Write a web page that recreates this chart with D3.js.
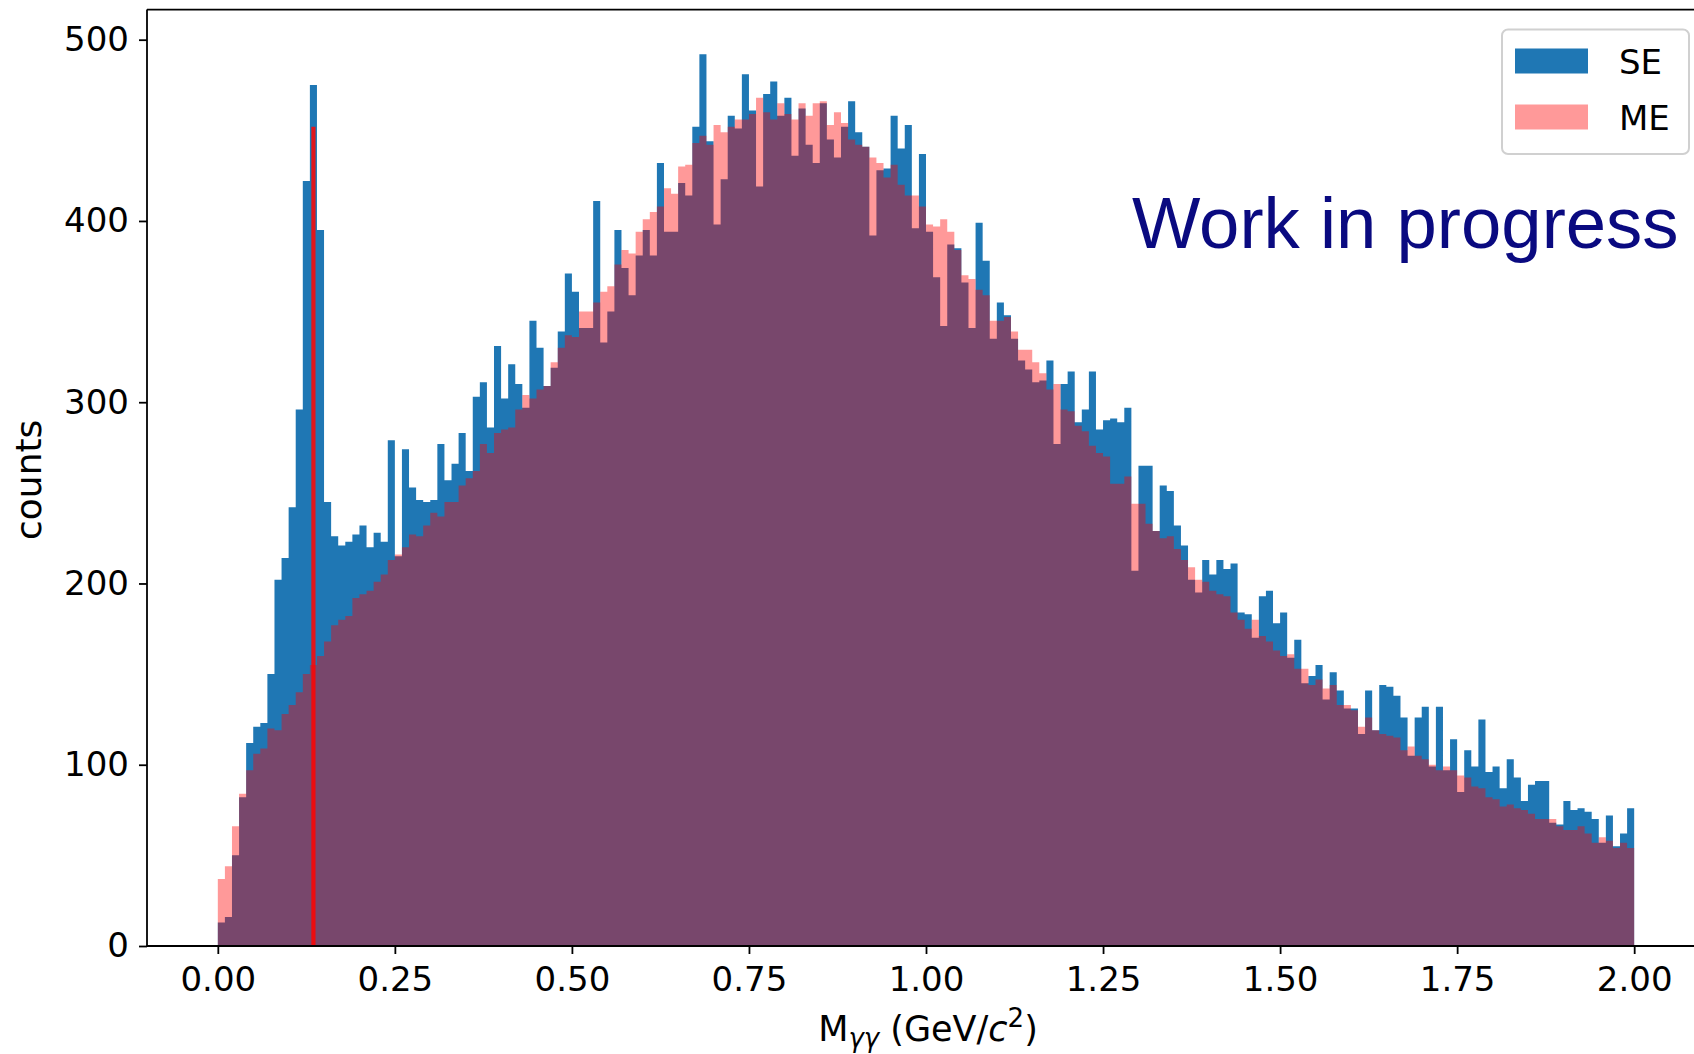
<!DOCTYPE html>
<html><head><meta charset="utf-8">
<script src="https://cdn.jsdelivr.net/npm/d3@7/dist/d3.min.js"></script>
<style>body{margin:0;background:#fff}svg{display:block}</style>
</head><body>
<svg id="chart" width="1694" height="1054"></svg>
<script>
// ---- data (200 bins of width 0.01 GeV/c^2 from 0 to 2) ----
const binStart = 0.0;
const binWidth = 0.01;
const seCounts = [
 13,16,50,82,112,121,123,150,202,214, 242,296,422,475,395,245,226,221,223,227,
 232,220,228,223,279,215,274,253,246,245, 246,277,257,266,283,262,303,311,286,331,
 302,321,310,297,345,330,309,319,339,371, 361,341,341,411,333,350,395,374,359,381,
 395,381,432,394,394,421,414,452,492,444, 398,423,458,451,481,461,419,470,477,458,
 468,436,462,442,432,465,445,435,452,466, 449,441,392,428,429,458,440,453,396,437,
 394,369,342,387,385,366,341,399,378,335, 355,348,335,323,318,311,312,323,277,310,
 317,289,296,317,285,290,291,289,297,207, 265,265,229,254,251,232,221,202,195,213,
 205,213,208,211,184,183,170,193,196,178, 184,159,169,145,149,155,136,151,141,131,
 131,117,141,119,144,143,138,126,105,126, 132,99,132,97,114,85,108,99,125,96,
 99,87,103,93,80,89,91,91,68,67, 80,75,76,74,70,57,72,55,62,76
];
const meCounts = [
 37,44,66,84,97,106,109,120,119,128, 133,140,150,155,160,168,177,180,182,192,
 194,196,201,205,213,216,220,227,226,232, 239,237,245,245,254,258,262,277,272,283,
 285,286,296,304,302,307,309,322,330,337, 336,350,350,355,361,364,376,384,382,394,
 401,405,408,418,415,430,431,443,447,442, 453,449,452,456,456,459,468,460,456,465,
 459,456,465,458,465,466,453,460,454,445, 442,441,435,432,424,431,420,414,414,408,
 398,397,401,394,384,370,368,362,359,345, 345,347,339,329,329,322,316,307,310,296,
 295,287,284,276,272,270,255,255,259,244, 244,233,229,225,226,219,213,209,202,201,
 196,194,193,184,180,175,180,171,168,163, 160,161,153,153,144,147,142,144,133,133,
 130,121,126,119,117,116,115,108,110,105, 103,100,97,99,97,94,93,88,87,82,
 81,77,78,76,75,73,70,70,70,66, 64,64,66,62,57,60,58,54,57,54
];
const seriesNames = ["SE", "ME"];
const xTicks = [0, 0.25, 0.5, 0.75, 1.0, 1.25, 1.5, 1.75, 2.0];
const yTicks = [0, 100, 200, 300, 400, 500];
const piMass = 0.135;        // red marker line position
const piLineTop = 452;       // red marker line height (counts)
const xDomain = [-0.1, 2.1];
const yDomain = [0, 516.6];
const annotation = "Work in progress";

// ---- layout ----
const svg = d3.select("#chart");
const FONT = "DejaVu Sans, sans-serif";
const x = d3.scaleLinear().domain(xDomain).range([147, 1705]);
const y = d3.scaleLinear().domain(yDomain).range([946, 9.6]);

const colSE = "#1f77b4";
const colME = "#ff0000";

svg.append("defs").append("clipPath").attr("id", "plotclip")
  .append("rect").attr("x", x(xDomain[0])).attr("y", y(yDomain[1]))
  .attr("width", x(xDomain[1]) - x(xDomain[0])).attr("height", y(0) - y(yDomain[1]));

function stepData(counts) {
  const pts = counts.map((v, i) => ({e: binStart + i * binWidth, v}));
  pts.push({e: binStart + counts.length * binWidth, v: counts[counts.length - 1]});
  return pts;
}
const area = d3.area()
  .x(d => x(d.e)).y0(y(0)).y1(d => y(d.v))
  .curve(d3.curveStepAfter);

const plot = svg.append("g").attr("clip-path", "url(#plotclip)");
plot.append("path").datum(stepData(seCounts))
  .attr("d", area).attr("fill", colSE);
plot.append("line")
  .attr("x1", x(piMass)).attr("x2", x(piMass))
  .attr("y1", y(0)).attr("y2", y(piLineTop))
  .attr("stroke", "#e0161c").attr("stroke-width", 4.2);
plot.append("path").datum(stepData(meCounts))
  .attr("d", area).attr("fill", colME).attr("fill-opacity", 0.4);

// ---- axes ----
const xAxis = d3.axisBottom(x).tickValues(xTicks).tickFormat(d3.format(".2f"))
  .tickSize(8).tickSizeOuter(0).tickPadding(13);
const yAxis = d3.axisLeft(y).tickValues(yTicks).tickFormat(d3.format("d"))
  .tickSize(8).tickSizeOuter(0).tickPadding(10);

const gx = svg.append("g").attr("transform", `translate(0,${y(0)})`).call(xAxis);
const gy = svg.append("g").attr("transform", `translate(${x(xDomain[0])},0)`).call(yAxis);
[gx, gy].forEach(g => {
  g.select(".domain").remove();
  g.selectAll(".tick line").attr("stroke", "#000").attr("stroke-width", 1.8);
  g.selectAll(".tick text").attr("fill", "#000")
    .style("font-family", FONT).style("font-size", "34px");
});

// spines
const spine = svg.append("g").attr("stroke", "#000").attr("stroke-width", 1.8).attr("fill", "none");
spine.append("line").attr("x1", x(xDomain[0])).attr("x2", x(xDomain[0])).attr("y1", y(yDomain[1])).attr("y2", y(0));
spine.append("line").attr("x1", x(xDomain[0])).attr("x2", x(xDomain[1])).attr("y1", y(0)).attr("y2", y(0));
spine.append("line").attr("x1", x(xDomain[0])).attr("x2", x(xDomain[1])).attr("y1", y(yDomain[1])).attr("y2", y(yDomain[1]));

// axis labels
svg.append("text")
  .attr("transform", `translate(41,${(y(0) + y(yDomain[1])) / 2 + 2}) rotate(-90)`)
  .attr("text-anchor", "middle")
  .style("font-family", FONT).style("font-size", "36px").attr("fill", "#000")
  .text("counts");

const xl = svg.append("text")
  .attr("x", (x(xDomain[0]) + x(xDomain[1])) / 2 + 2).attr("y", 1041)
  .attr("text-anchor", "middle")
  .style("font-family", FONT).style("font-size", "35px").attr("fill", "#000");
xl.append("tspan").text("M");
xl.append("tspan").attr("dy", 6).style("font-size", "26px").style("font-style", "italic").text("γγ");
xl.append("tspan").attr("dy", -6).text(" (GeV/");
xl.append("tspan").style("font-style", "italic").text("c");
xl.append("tspan").attr("dy", -14).style("font-size", "26px").text("2");
xl.append("tspan").attr("dy", 14).text(")");

// ---- legend ----
const lg = svg.append("g");
lg.append("rect").attr("x", 1502).attr("y", 29.5).attr("width", 187).attr("height", 124.5)
  .attr("rx", 6).attr("fill", "#fff").attr("fill-opacity", 0.8)
  .attr("stroke", "#d0d0d0").attr("stroke-width", 2);
const legendItems = [
  {name: seriesNames[0], fill: colSE, op: 1},
  {name: seriesNames[1], fill: colME, op: 0.4}
];
legendItems.forEach((d, i) => {
  const yy = 48.5 + i * 56;
  lg.append("rect").attr("x", 1515).attr("y", yy).attr("width", 73).attr("height", 25)
    .attr("fill", d.fill).attr("fill-opacity", d.op);
  lg.append("text").attr("x", 1619).attr("y", yy + 25)
    .style("font-family", FONT).style("font-size", "34px").attr("fill", "#000")
    .text(d.name);
});

// ---- annotation ----
svg.append("text").attr("x", 1132).attr("y", 248)
  .style("font-family", "Liberation Sans, Arial, sans-serif").style("font-size", "72.5px")
  .attr("fill", "#0a0a80")
  .text(annotation);
</script>
</body></html>
